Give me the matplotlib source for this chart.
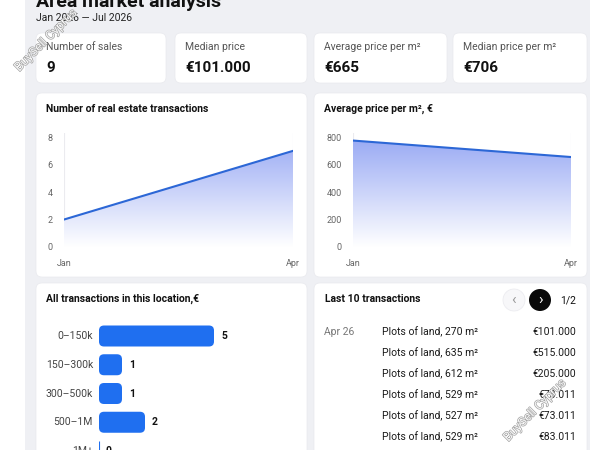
import numpy as np
import matplotlib
matplotlib.use("Agg")
import matplotlib.pyplot as plt
from matplotlib.patches import FancyBboxPatch, Circle, Rectangle
from matplotlib.colors import LinearSegmentedColormap
import matplotlib.patheffects as pe

plt.rcParams['font.family'] = ['Roboto', 'DejaVu Sans']

# data
title = "Area market analysis"
period = "Jan 2026 — Jul 2026"
kpi_labels = ["Number of sales", "Median price", "Average price per m²", "Median price per m²"]
kpi_values = ["9", "€101.000", "€665", "€706"]

months = ["Jan", "Apr"]
sales_count = [2, 7]
avg_price_m2 = [775, 655]

price_ranges = ["0–150k", "150–300k", "300–500k", "500–1M", "1M+"]
range_counts = [5, 1, 1, 2, 0]

tx_date = "Apr 26"
tx_desc = ["Plots of land, 270 m²", "Plots of land, 635 m²", "Plots of land, 612 m²",
           "Plots of land, 529 m²", "Plots of land, 527 m²", "Plots of land, 529 m²"]
tx_price = ["€101.000", "€515.000", "€205.000", "€73.011", "€73.011", "€83.011"]

W, H = 600, 450
fig = plt.figure(figsize=(6, 4.5), dpi=100)
fig.patch.set_facecolor("white")

bg = fig.add_axes([0, 0, 1, 1], zorder=0)
bg.set_xlim(0, W)
bg.set_ylim(H, 0)
bg.axis("off")

bg.add_patch(Rectangle((25, 0), 565, H, color="#eff0f4", lw=0))


def card(x0, y0, x1, y1):
    bg.add_patch(FancyBboxPatch((x0, y0), x1 - x0, y1 - y0,
                                boxstyle="round,pad=0,rounding_size=6",
                                fc="white", ec="#e9eaee", lw=0.5))


def px_axes(x0, y0, x1, y1):
    a = fig.add_axes([x0 / W, 1 - y1 / H, (x1 - x0) / W, (y1 - y0) / H], zorder=2)
    a.set_facecolor("none")
    return a


bg.text(36, 7, title, fontsize=14, fontweight="bold", color="#111", va="baseline")
bg.text(36, 18, period, fontsize=7.5, color="#222", va="center")

# KPI cards
kpi_x = [(36, 166), (175, 307), (314, 447), (453, 587)]
for (x0, x1), lab, val in zip(kpi_x, kpi_labels, kpi_values):
    card(x0, 33, x1, 83)
    bg.text(x0 + 10, 47, lab, fontsize=7.5, color="#555", va="center")
    bg.text(x0 + 10, 68, val, fontsize=11, fontweight="bold", color="#111", va="center")

# chart cards
card(36, 93, 307, 277)
card(314, 93, 587, 277)
bg.text(46, 109, "Number of real estate transactions", fontsize=7.5, fontweight="bold",
        color="#111", va="center")
bg.text(324, 109, "Average price per m², €", fontsize=7.5, fontweight="bold",
        color="#111", va="center")

grad = LinearSegmentedColormap.from_list("g", ["#ffffff", "#98a9f4"])


def area_chart(ax, vals, ymax, ytop, yticks):
    x = np.arange(len(vals))
    ax.set_xlim(0, len(vals) - 1)
    ax.set_ylim(0, ytop)
    for xi in x:
        ax.axvline(xi, color="#ebebef", lw=0.8, zorder=1)
    poly = ax.fill_between(x, 0, vals, color="none", lw=0)
    g = np.linspace(0, 1, 256).reshape(-1, 1)
    im = ax.imshow(g, cmap=grad, origin="lower", aspect="auto",
                   extent=[0, len(vals) - 1, 0, ymax], zorder=2)
    im.set_clip_path(poly.get_paths()[0], transform=ax.transData)
    ax.plot(x, vals, color="#2c67d6", lw=1.5, zorder=3, solid_capstyle="round")
    ax.set_xticks(x)
    ax.set_xticklabels(months)
    ax.set_yticks(yticks)
    ax.tick_params(length=0, labelsize=6.5, labelcolor="#666")
    ax.tick_params(axis="y", pad=8)
    ax.tick_params(axis="x", pad=9)
    for s in ax.spines.values():
        s.set_visible(False)


ax1 = px_axes(64, 133, 293, 247)
area_chart(ax1, sales_count, 8, 8.3, [0, 2, 4, 6, 8])
ax2 = px_axes(353, 133, 571, 247)
area_chart(ax2, avg_price_m2, 800, 830, [0, 200, 400, 600, 800])

# bottom cards
card(36, 283, 307, 470)
card(314, 283, 587, 470)
bg.text(46, 299, "All transactions in this location,€", fontsize=7.5, fontweight="bold",
        color="#111", va="center")

# bar chart: 23 px per unit, 28.75 px per category
axb = px_axes(99, 321, 299, 470)
px_x, px_y = 23.0, 28.75
axb.set_xlim(0, 200 / px_x)
axb.set_ylim((470 - 336) / px_y, (321 - 336) / px_y)
axb.axis("off")
bh = 21 / px_y
for i, (lab, v) in enumerate(zip(price_ranges, range_counts)):
    if v > 0:
        r = 5 / px_x
        axb.add_patch(FancyBboxPatch((0, i - bh / 2), v, bh,
                                     boxstyle=f"round,pad=0,rounding_size={r}",
                                     mutation_aspect=px_x / px_y,
                                     fc="#1f6ff0", ec="none"))
    else:
        axb.barh(i, v, height=bh, color="#1f6ff0", edgecolor="#1f6ff0", lw=0.8)
    axb.text(v + 7 / px_x, i, str(v), fontsize=7.5, fontweight="bold",
             color="#111", va="center", ha="left")
    axb.text(-6 / px_x, i, lab, fontsize=7.5, color="#444", va="center", ha="right",
             clip_on=False)

# last transactions table
bg.text(325, 299, "Last 10 transactions", fontsize=7.5, fontweight="bold",
        color="#111", va="center")
bg.add_patch(Circle((514, 300), 11, fc="#f7f7f9", ec="#ececf0", lw=0.6))
bg.text(514, 300, "‹", fontsize=11, color="#999", ha="center", va="center")
bg.add_patch(Circle((540, 300), 11, fc="#0a0a0a", ec="none"))
bg.text(540.5, 300, "›", fontsize=11, color="white", ha="center", va="center")
bg.text(568, 300, "1/2", fontsize=7.5, color="#111", ha="center", va="center")

row_y = [332, 353, 374, 395, 416, 437]
bg.text(324, row_y[0], tx_date, fontsize=7.5, color="#777", va="center")
for y, d, p in zip(row_y, tx_desc, tx_price):
    bg.text(382, y, d, fontsize=7.5, color="#1a1a1a", va="center")
    bg.text(576, y, p, fontsize=7.5, color="#1a1a1a", va="center", ha="right")

# watermark
wm_fx = [pe.withStroke(linewidth=1.0, foreground="#9a9a9a")]
for (wx, wy) in [(46, 40), (535, 410)]:
    bg.text(wx, wy, "BuySell Cyprus", fontsize=9, color="white", rotation=45,
            ha="center", va="center", path_effects=wm_fx, zorder=5, alpha=0.9)

fig.savefig("out.png", dpi=100)
